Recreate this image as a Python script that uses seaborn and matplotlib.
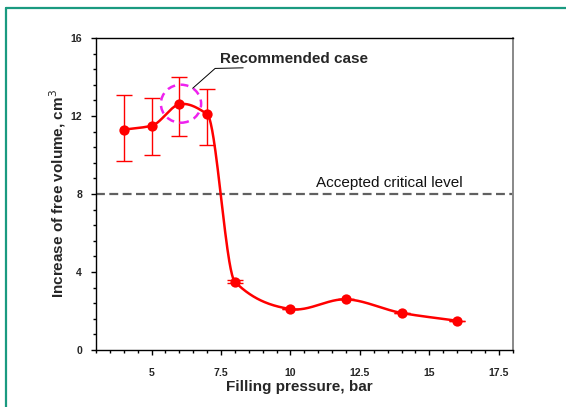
import numpy as np
import pandas as pd
import matplotlib
matplotlib.use("Agg")
import matplotlib.pyplot as plt
from matplotlib.patches import Ellipse
from matplotlib.lines import Line2D
import seaborn as sns

# Measured increase of free volume vs. filling pressure
pressure = [4, 5, 6, 7, 8, 10, 12, 14, 16]
volume = [11.3, 11.5, 12.6, 12.1, 3.5, 2.1, 2.6, 1.9, 1.5]
err_low = [9.7, 10.0, 11.0, 10.5, 3.42, 2.1, 2.6, 1.9, 1.5]
err_high = [13.1, 12.9, 14.0, 13.4, 3.58, 2.1, 2.6, 1.9, 1.5]
critical_level = 8
recommended_pressure = 6
x_ticks = [5, 7.5, 10, 12.5, 15, 17.5]
y_ticks = [0, 4, 8, 12, 16]


def smooth_curve(x, y, n=60):
    """Piecewise cubic Hermite curve through the points."""
    x = np.asarray(x, float)
    y = np.asarray(y, float)
    h = np.diff(x)
    d = np.diff(y) / h
    m = np.zeros_like(y)
    m[0], m[-1] = d[0], d[-1]
    for i in range(1, len(x) - 1):
        if d[i - 1] * d[i] > 0:
            w1 = 2 * h[i] + h[i - 1]
            w2 = h[i] + 2 * h[i - 1]
            m[i] = (w1 + w2) / (w1 / d[i - 1] + w2 / d[i])
        else:
            m[i] = 0.5 * (d[i - 1] + d[i])
    xs, ys = [], []
    for i in range(len(x) - 1):
        t = np.linspace(0, 1, n, endpoint=(i == len(x) - 2))
        h00 = 2 * t**3 - 3 * t**2 + 1
        h10 = t**3 - 2 * t**2 + t
        h01 = -2 * t**3 + 3 * t**2
        h11 = t**3 - t**2
        xs.append(x[i] + t * h[i])
        ys.append(h00 * y[i] + h10 * h[i] * m[i] + h01 * y[i + 1] + h11 * h[i] * m[i + 1])
    return np.concatenate(xs), np.concatenate(ys)


sns.set_theme(style="ticks")
plt.rcParams["font.family"] = ["Liberation Sans", "DejaVu Sans"]

fig = plt.figure(figsize=(5.66, 4.07), dpi=100)
ax = fig.add_axes([96 / 566, 1 - 350 / 407, 416.6 / 566, 312 / 407])

red = "#ff0000"
cx, cy = smooth_curve(pressure, volume)
curve = pd.DataFrame({"p": cx, "v": cy})
points = pd.DataFrame({"p": pressure, "v": volume})

# critical level
ax.axhline(critical_level, color="#606060", lw=1.6, dashes=(4, 2), zorder=1)
ax.text(10.91, critical_level + 0.22, "Accepted critical level", fontsize=11,
        color="#111111", va="bottom", ha="left")

sns.lineplot(data=curve, x="p", y="v", ax=ax, color=red, lw=1.8,
             sort=False, estimator=None, zorder=3)
yerr = np.array([np.subtract(volume, err_low), np.subtract(err_high, volume)])
ax.errorbar(pressure, volume, yerr=yerr, fmt="none", ecolor=red,
            elinewidth=1.0, capsize=5.7, capthick=1.0, zorder=3)
sns.scatterplot(data=points, x="p", y="v", ax=ax, color=red, s=55,
                edgecolor=red, linewidth=0, zorder=4)

# recommended case marker
rec_v = volume[pressure.index(recommended_pressure)]
ax.add_patch(Ellipse((recommended_pressure + 0.06, rec_v + 0.03), 1.45, 1.95,
                     fill=False, edgecolor="#ee22ee", lw=1.8,
                     linestyle=(0, (3.2, 2.2)), zorder=5))
ax.plot([6.48, 7.29, 8.3], [13.42, 14.44, 14.47], color="black", lw=0.7, zorder=5)
ax.text(7.45, 14.92, "Recommended case", fontsize=11, fontweight="bold",
        va="center", ha="left")

ax.set_xlim(3, 18)
ax.set_ylim(0, 16)
ax.set_xticks(x_ticks)
ax.set_xticklabels([f"{t:g}" for t in x_ticks])
ax.set_xticks(np.arange(3, 18.01, 0.5), minor=True)
ax.set_yticks(y_ticks)
ax.set_yticklabels([str(t) for t in y_ticks])
ax.set_yticks(np.arange(0, 16.01, 0.8), minor=True)
ax.tick_params(which="major", direction="out", length=3.6, width=1.0,
               color="black", labelsize=7.6, pad=9)
ax.tick_params(axis="y", which="major", pad=6.4)
ax.tick_params(which="minor", direction="out", length=2.3, width=1.0, color="black")
for lab in ax.get_xticklabels() + ax.get_yticklabels():
    lab.set_fontweight("bold")

ax.set_xlabel("Filling pressure, bar", fontsize=11, fontweight="bold")
ax.xaxis.set_label_coords(0.489, -0.095)
ax.set_ylabel("Increase of free volume, cm$^3$", fontsize=11, fontweight="bold")
ax.yaxis.set_label_coords(-0.067, 0.5)

for side in ["left", "bottom", "top"]:
    ax.spines[side].set_color("black")
    ax.spines[side].set_linewidth(1.0)
ax.spines["right"].set_color("#888888")
ax.spines["right"].set_linewidth(1.4)
ax.spines["top"].set_visible(True)
ax.spines["right"].set_visible(True)

# outer frame
fc = "#1a9a80"
fig.add_artist(Line2D([6 / 566, 1.0], [1 - 8 / 407, 1 - 8 / 407],
                      transform=fig.transFigure, color=fc, lw=1.6))
fig.add_artist(Line2D([6 / 566, 6 / 566], [0, 1 - 8 / 407],
                      transform=fig.transFigure, color=fc, lw=1.6))

fig.savefig("out.png", dpi=100)
